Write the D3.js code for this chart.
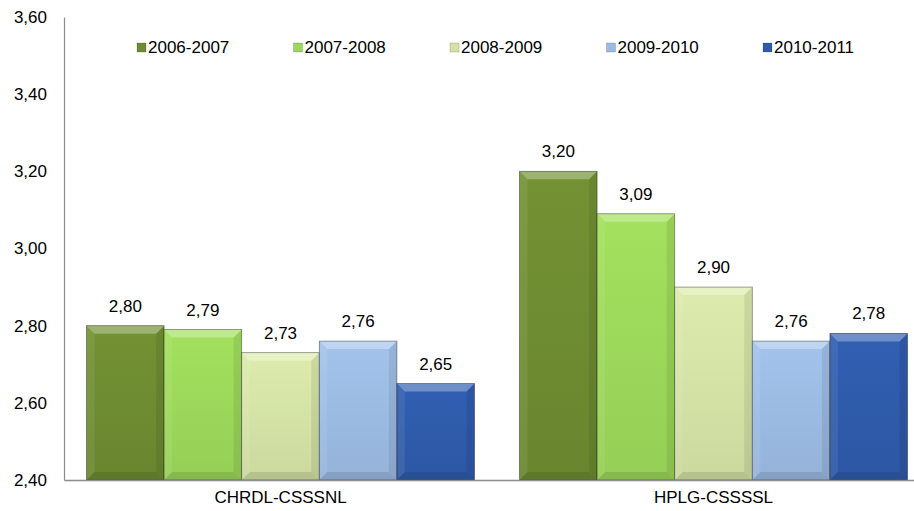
<!DOCTYPE html>
<html>
<head>
<meta charset="utf-8">
<script src="https://cdnjs.cloudflare.com/ajax/libs/d3/7.8.5/d3.min.js"></script>
<style>
  body { margin: 0; background: #fff; }
  text { font-family: "Liberation Sans", Arial, sans-serif; fill: #000; }
</style>
</head>
<body>
<div class="vis-barchart"></div>
<script>
const categories = ['CHRDL-CSSSNL', 'HPLG-CSSSSL'];
const seriesNames = ['2006-2007', '2007-2008', '2008-2009', '2009-2010', '2010-2011'];
const values = [
    [2.80, 3.20],
    [2.79, 3.09],
    [2.73, 2.90],
    [2.76, 2.76],
    [2.65, 2.78]
];
const yTicks = [2.40, 2.60, 2.80, 3.00, 3.20, 3.40, 3.60];
const colors = ['#6e8c31', '#9cd85a', '#d4e2a6', '#9cbbe2', '#2f5bab'];

const width = 914, height = 511;
const margin = {top: 17, right: -16, bottom: 31, left: 64};
const fontSize = '17px';

const svg = d3.select('.vis-barchart').append('svg')
    .attr('width', width)
    .attr('height', height);

const fmt = v => d3.format('.2f')(v).replace('.', ',');

const y = d3.scaleLinear()
    .domain([2.40, 3.60])
    .range([height - margin.bottom, margin.top]);

const x0 = d3.scaleBand()
    .domain(categories)
    .range([margin.left, width - margin.right])
    .padding(0);

const x1 = d3.scaleBand()
    .domain(seriesNames)
    .range([0, x0.bandwidth()])
    .paddingInner(0)
    .paddingOuter(0.29);

// y axis
const yAxis = svg.append('g')
    .attr('transform', 'translate(' + margin.left + ',0)')
    .call(d3.axisLeft(y).tickValues(yTicks).tickFormat(fmt).tickSize(0).tickPadding(17));
yAxis.select('.domain').attr('stroke', '#8c8c8c').attr('stroke-width', 1.2);
yAxis.selectAll('text')
    .style('font-size', fontSize)
    .style('font-family', '"Liberation Sans", Arial, sans-serif');

// bars
const bevel = 8;
const groups = svg.selectAll('.grp')
    .data(categories)
    .enter().append('g')
    .attr('class', 'grp')
    .attr('transform', d => 'translate(' + x0(d) + ',0)');

const defs = svg.append('defs');
seriesNames.forEach((s, i) => {
    const g = defs.append('linearGradient')
        .attr('id', 'grad' + i)
        .attr('x1', 0).attr('x2', 0).attr('y1', 0).attr('y2', 1);
    g.append('stop').attr('offset', '0%').attr('stop-color', d3.color(colors[i]).brighter(0.12));
    g.append('stop').attr('offset', '100%').attr('stop-color', d3.color(colors[i]).darker(0.12));
});

groups.each(function(cat, ci) {
    const g = d3.select(this);
    seriesNames.forEach((s, si) => {
        const v = values[si][ci];
        const bx = x1(s), bw = x1.bandwidth();
        const by = y(v), bb = y(2.40);
        const bar = g.append('g');
        bar.append('rect')
            .attr('x', bx).attr('y', by)
            .attr('width', bw).attr('height', bb - by)
            .attr('fill', 'url(#grad' + si + ')');
        // bevel facets
        const pts = (a) => a.map(p => p.join(',')).join(' ');
        bar.append('polygon')
            .attr('points', pts([[bx, by], [bx + bw, by], [bx + bw - bevel, by + bevel], [bx + bevel, by + bevel]]))
            .attr('fill', '#fff').attr('opacity', 0.3);
        bar.append('polygon')
            .attr('points', pts([[bx, by], [bx + bevel, by + bevel], [bx + bevel, bb - bevel], [bx, bb]]))
            .attr('fill', '#fff').attr('opacity', 0.08);
        bar.append('polygon')
            .attr('points', pts([[bx + bw, by], [bx + bw, bb], [bx + bw - bevel, bb - bevel], [bx + bw - bevel, by + bevel]]))
            .attr('fill', '#000').attr('opacity', 0.08);
        bar.append('polygon')
            .attr('points', pts([[bx, bb], [bx + bevel, bb - bevel], [bx + bw - bevel, bb - bevel], [bx + bw, bb]]))
            .attr('fill', '#000').attr('opacity', 0.1);
        bar.append('rect')
            .attr('x', bx).attr('y', by)
            .attr('width', bw).attr('height', bb - by)
            .attr('fill', 'none')
            .attr('stroke', 'rgba(0,0,0,0.45)')
            .attr('stroke-width', 0.8);
        g.append('text')
            .attr('x', bx + bw / 2)
            .attr('y', by - 14)
            .attr('text-anchor', 'middle')
            .style('font-size', fontSize)
            .text(fmt(v));
    });
});

// x axis
const xAxis = svg.append('g')
    .attr('transform', 'translate(0,' + y(2.40) + ')')
    .call(d3.axisBottom(x0).tickSize(0).tickPadding(11));
xAxis.select('.domain').attr('stroke', '#8c8c8c').attr('stroke-width', 1.5);
xAxis.selectAll('text')
    .style('font-size', fontSize)
    .style('font-family', '"Liberation Sans", Arial, sans-serif');

// legend
const legend = svg.selectAll('.legend')
    .data(seriesNames)
    .enter().append('g')
    .attr('class', 'legend')
    .attr('transform', (d, i) => 'translate(' + (137 + i * 156.5) + ',47)');
legend.append('rect')
    .attr('x', 0).attr('y', -4)
    .attr('width', 9).attr('height', 9)
    .attr('fill', (d, i) => colors[i])
    .attr('stroke', 'rgba(0,0,0,0.3)')
    .attr('stroke-width', 0.5);
legend.append('text')
    .attr('x', 11).attr('y', 6)
    .style('font-size', fontSize)
    .text(d => d);
</script>
</body>
</html>
